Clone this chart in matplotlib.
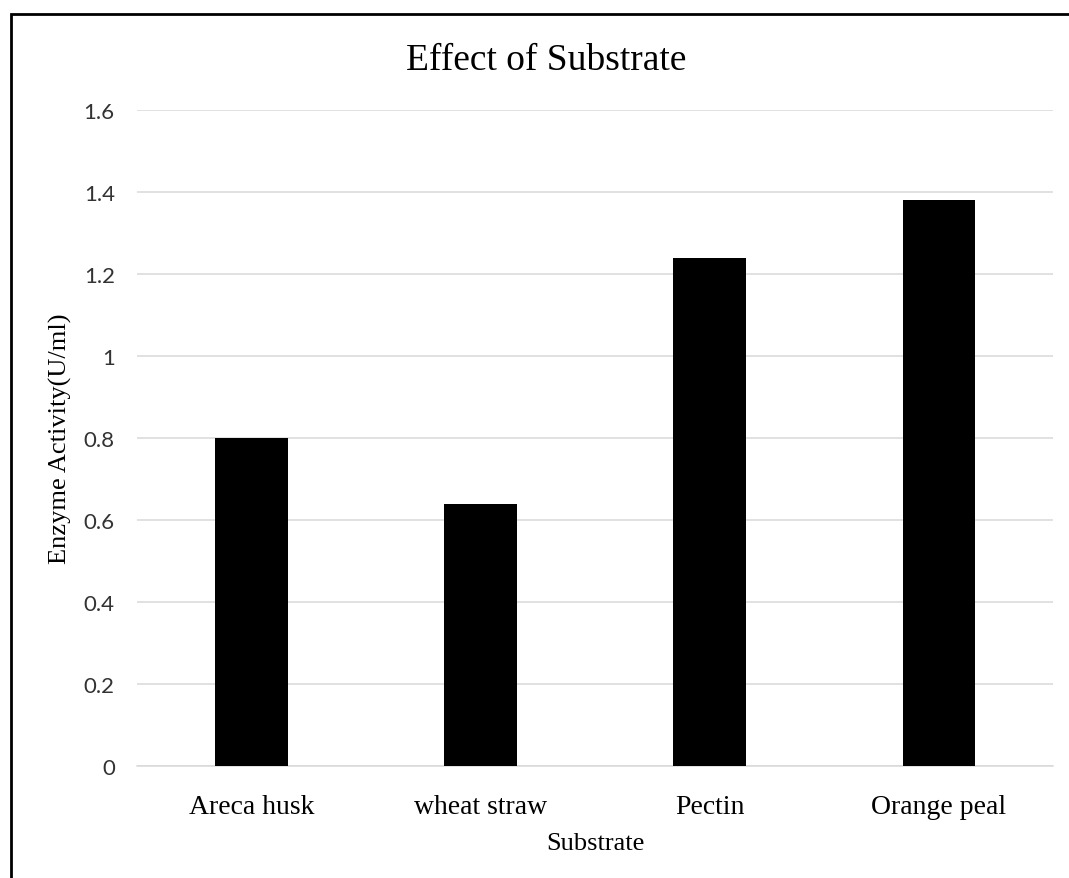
import matplotlib
matplotlib.use("Agg")
import matplotlib.pyplot as plt
from matplotlib.patches import Rectangle

# data
substrates = ["Areca husk", "wheat straw", "Pectin", "Orange peal"]
activity = [0.80, 0.64, 1.24, 1.38]
yticks = [0, 0.2, 0.4, 0.6, 0.8, 1.0, 1.2, 1.4, 1.6]
ytick_labels = ["0", "0.2", "0.4", "0.6", "0.8", "1", "1.2", "1.4", "1.6"]

SERIF = "Liberation Serif"
SANS = "Lato"
GRID = "#d9d9d9"

fig = plt.figure(figsize=(10.69, 8.79), dpi=100)
ax = fig.add_axes([0.1282, 0.1274, 0.8569, 0.7463])

x = range(len(substrates))
ax.bar(x, activity, width=0.315, color="black", zorder=3)

ax.set_xlim(-0.5, len(substrates) - 0.5)
ax.set_ylim(0, 1.6)
ax.set_yticks(yticks)
ax.set_yticklabels(ytick_labels, fontfamily=SANS, fontsize=16, color="#333333")
ax.set_xticks(list(x))
ax.set_xticklabels(substrates, fontfamily=SERIF, fontsize=20, color="black")
ax.tick_params(axis="y", length=0, pad=16)
ax.tick_params(axis="x", length=0, pad=20)

ax.grid(axis="y", color=GRID, linewidth=1.1, zorder=0)
for s in ["top", "right", "left"]:
    ax.spines[s].set_visible(False)
ax.spines["bottom"].set_color(GRID)
ax.spines["bottom"].set_linewidth(1.1)

ax.set_xlabel("Substrate", fontfamily=SERIF, fontsize=19)
ax.xaxis.set_label_coords(0.5, -0.1)
ax.set_ylabel("Enzyme Activity(U/ml)", fontfamily=SERIF, fontsize=19)
ax.yaxis.set_label_coords(-0.071, 0.5)

fig.text(546 / 1069, 0.9204, "Effect of Substrate", fontfamily=SERIF,
         fontsize=27, ha="center", va="baseline")

# chart border (runs off the right and bottom edges)
fig.add_artist(Rectangle((10.5 / 1069, -0.05), 1.2, 1 - 15 / 879 + 0.05,
                         transform=fig.transFigure, fill=False,
                         edgecolor="black", linewidth=2, clip_on=False))

fig.savefig("out.png", dpi=100)
